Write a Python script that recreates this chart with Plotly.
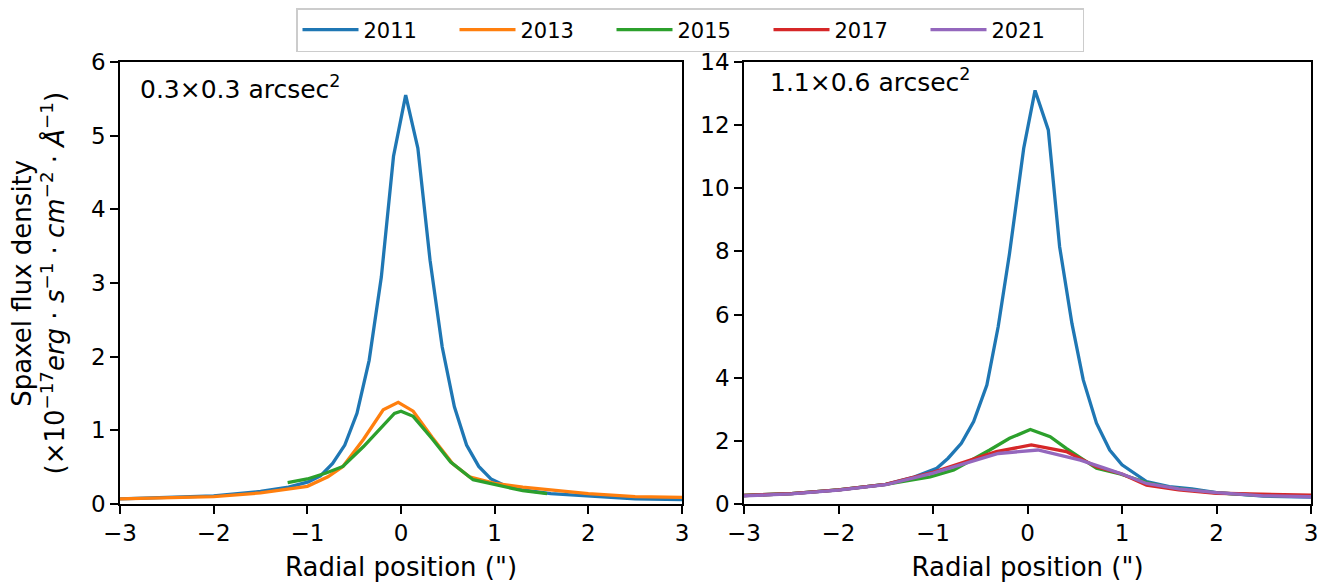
import plotly.graph_objects as go

# ---- data: left panel (0.3x0.3 arcsec^2) ----
left_x_2011 = [-3.0, -2.5, -2.0, -1.5, -1.2, -0.99, -0.86, -0.73, -0.60, -0.47, -0.34, -0.21, -0.08,
               0.05, 0.18, 0.31, 0.44, 0.57, 0.70, 0.83, 0.96, 1.09, 1.3, 1.6, 2.0, 2.5, 3.0]
left_y_2011 = [0.07, 0.09, 0.11, 0.17, 0.23, 0.30, 0.38, 0.55, 0.80, 1.23, 1.95, 3.08, 4.72,
               5.55, 4.83, 3.31, 2.13, 1.32, 0.80, 0.51, 0.34, 0.26, 0.19, 0.14, 0.11, 0.07, 0.06]

left_x_2013 = [-3.0, -2.5, -2.0, -1.5, -1.2, -1.0, -0.78, -0.62, -0.4, -0.19, -0.03, 0.13, 0.33,
               0.55, 0.73, 1.0, 1.3, 1.62, 2.0, 2.5, 3.0]
left_y_2013 = [0.07, 0.09, 0.10, 0.15, 0.20, 0.24, 0.37, 0.51, 0.88, 1.28, 1.38, 1.26, 0.91,
               0.55, 0.37, 0.28, 0.23, 0.19, 0.14, 0.10, 0.09]

left_x_2015 = [-1.21, -1.0, -0.8, -0.62, -0.4, -0.19, -0.07, 0.0, 0.13, 0.33, 0.53, 0.77, 1.02, 1.3, 1.56]
left_y_2015 = [0.29, 0.34, 0.42, 0.51, 0.78, 1.07, 1.23, 1.26, 1.19, 0.89, 0.57, 0.33, 0.26, 0.18, 0.14]

# ---- data: right panel (1.1x0.6 arcsec^2) ----
right_x_2011 = [-3.0, -2.5, -2.0, -1.5, -1.2, -0.96, -0.84, -0.70, -0.57, -0.43, -0.31, -0.19, -0.04,
                0.08, 0.22, 0.34, 0.47, 0.59, 0.73, 0.87, 1.0, 1.26, 1.5, 1.74, 2.0, 2.5, 3.0]
right_y_2011 = [0.27, 0.33, 0.45, 0.62, 0.85, 1.13, 1.45, 1.92, 2.61, 3.77, 5.62, 7.94, 11.27,
                13.1, 11.85, 8.15, 5.72, 3.93, 2.56, 1.71, 1.24, 0.71, 0.55, 0.48, 0.36, 0.25, 0.22]

right_x_2015 = [-3.0, -2.5, -2.0, -1.5, -1.03, -0.78, -0.40, -0.19, 0.03, 0.24, 0.41, 0.73, 0.98,
                1.26, 1.5, 2.0, 2.5, 3.0]
right_y_2015 = [0.27, 0.33, 0.45, 0.62, 0.86, 1.08, 1.71, 2.08, 2.36, 2.13, 1.76, 1.13, 0.95,
                0.68, 0.52, 0.35, 0.27, 0.24]

right_x_2017 = [-3.0, -2.5, -2.0, -1.5, -1.0, -0.6, -0.33, 0.04, 0.41, 0.73, 1.0, 1.26, 1.6, 2.0, 2.5, 3.0]
right_y_2017 = [0.27, 0.33, 0.45, 0.62, 1.0, 1.38, 1.66, 1.87, 1.66, 1.18, 0.95, 0.60, 0.45, 0.34, 0.30, 0.28]

right_x_2021 = [-3.0, -2.5, -2.0, -1.5, -1.0, -0.6, -0.31, 0.11, 0.56, 0.8, 1.0, 1.26, 1.6, 2.0, 2.5, 3.0]
right_y_2021 = [0.26, 0.32, 0.44, 0.61, 0.98, 1.33, 1.60, 1.71, 1.39, 1.15, 0.95, 0.65, 0.48, 0.36, 0.26, 0.23]

years = ["2011", "2013", "2015", "2017", "2021"]
colors = {"2011": "#1f77b4", "2013": "#ff7f0e", "2015": "#2ca02c", "2017": "#d62728", "2021": "#9467bd"}

panel_left = [("2011", left_x_2011, left_y_2011), ("2013", left_x_2013, left_y_2013),
              ("2015", left_x_2015, left_y_2015)]
panel_right = [("2011", right_x_2011, right_y_2011), ("2015", right_x_2015, right_y_2015),
               ("2017", right_x_2017, right_y_2017), ("2021", right_x_2021, right_y_2021)]

FONT = "DejaVu Sans"
LW = 3.3
fig = go.Figure()
for name, xs, ys in panel_left:
    fig.add_trace(go.Scatter(x=xs, y=ys, mode="lines", name=name, showlegend=False,
                             line=dict(color=colors[name], width=LW), xaxis="x", yaxis="y"))
for name, xs, ys in panel_right:
    fig.add_trace(go.Scatter(x=xs, y=ys, mode="lines", name=name, showlegend=False,
                             line=dict(color=colors[name], width=LW), xaxis="x2", yaxis="y2"))
# legend entries in order
for name in years:
    fig.add_trace(go.Scatter(x=[None], y=[None], mode="lines", name=name, showlegend=True,
                             line=dict(color=colors[name], width=LW), xaxis="x", yaxis="y"))

axis_common = dict(showline=True, linecolor="black", linewidth=1.6, mirror=True,
                   ticks="outside", ticklen=8, tickwidth=1.6, tickcolor="black",
                   showgrid=False, zeroline=False,
                   tickfont=dict(family=FONT, size=23, color="black"))

# page has an 8px body margin; plot areas in page px: left 120-682, right 744-1311, y 62-504
L, R, T, B = 112, 33, 54, 91
PW = 1336 - L - R
PH = 587 - T - B
left_end = (682 - 8 - L) / PW
right_start = (744 - 8 - L) / PW

xtitle = dict(text='Radial position (")', font=dict(family=FONT, size=26), standoff=12)

fig.update_layout(
    width=1336, height=587,
    margin=dict(l=L, r=R, t=T, b=B, autoexpand=False),
    plot_bgcolor="white", paper_bgcolor="white",
    font=dict(family=FONT, color="black"),
    xaxis=dict(domain=[0, left_end], range=[-3, 3], dtick=1, anchor="y", title=xtitle, **axis_common),
    yaxis=dict(domain=[0, 1], range=[0, 6], dtick=1, anchor="x", **axis_common),
    xaxis2=dict(domain=[right_start, 1], range=[-3, 3], dtick=1, anchor="y2", title=xtitle, **axis_common),
    yaxis2=dict(domain=[0, 1], range=[0, 14], dtick=2, anchor="x2", **axis_common),
    legend=dict(orientation="h", x=(690 - 8 - L) / PW, xanchor="center", y=1 + T / PH, yanchor="top",
                bordercolor="#cccccc", borderwidth=1.5, bgcolor="white",
                font=dict(family=FONT, size=21), itemwidth=56, entrywidth=86, entrywidthmode="pixels"),
    showlegend=True,
    annotations=[
        dict(text="0.3×0.3 arcsec<sup>2</sup>", xref="x domain", yref="y domain", x=0.032, y=0.984,
             xanchor="left", yanchor="top", showarrow=False, font=dict(family=FONT, size=25)),
        dict(text="1.1×0.6 arcsec<sup>2</sup>", xref="x2 domain", yref="y2 domain", x=0.042, y=1.0,
             xanchor="left", yanchor="top", showarrow=False, font=dict(family=FONT, size=25)),
        dict(text="Spaxel flux density<br>(×10<sup>−17</sup><i>erg</i> · <i>s</i><sup>−1</sup> · "
                  "<i>cm</i><sup>−2</sup> · <i>Å</i><sup>−1</sup>)",
             xref="paper", yref="paper", x=(30.5 - L) / PW, y=0.5, xanchor="center", yanchor="middle",
             textangle=-90, showarrow=False, font=dict(family=FONT, size=26)),
    ],
)

fig.write_html("out.html")
